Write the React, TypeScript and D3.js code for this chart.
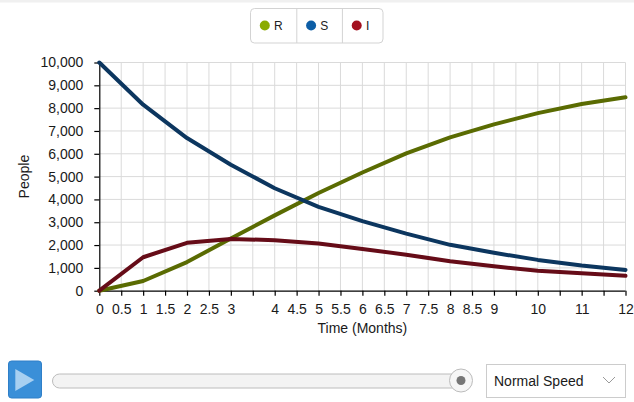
import React, { useEffect, useRef } from "react";
import * as d3 from "d3";

const months = [0, 1, 2, 3, 4, 5, 6, 7, 8, 9, 10, 11, 12];
const susceptible = [10000, 8150, 6690, 5520, 4490, 3670, 3050, 2500, 2010, 1660, 1350, 1100, 910];
const infected = [0, 1465, 2100, 2270, 2210, 2070, 1830, 1580, 1290, 1070, 875, 760, 650];
const recovered = [0, 425, 1255, 2290, 3300, 4280, 5180, 6020, 6720, 7290, 7780, 8180, 8480];

const xTickValues = [0, 0.5, 1, 1.5, 2, 2.5, 3, 3.5, 4, 4.5, 5, 5.5, 6, 6.5, 7, 7.5, 8, 8.5, 9, 9.5, 10, 10.5, 11, 11.5, 12];
const xHiddenLabels = [3.5, 9.5, 10.5, 11.5];
const yTickValues = [0, 1000, 2000, 3000, 4000, 5000, 6000, 7000, 8000, 9000, 10000];

const legendItems = ["R", "S", "I"];
const lineColors: Record<string, string> = { R: "#5a6b02", S: "#0c365f", I: "#660c18" };
const dotColors: Record<string, string> = { R: "#8aab00", S: "#0d5ea6", I: "#a3101f" };

const W = 634;
const H = 402;
const margin = { left: 99.3, right: 8.5, top: 62.5, bottom: 111.3 };
const FONT = "'Liberation Sans', Arial, sans-serif";

export default function App() {
  const ref = useRef<SVGSVGElement | null>(null);

  useEffect(() => {
    document.body.style.margin = "0";
    const svg = d3.select(ref.current);
    svg.selectAll("*").remove();

    const x = d3.scaleLinear().domain([0, 12]).range([margin.left, W - margin.right]);
    const y = d3.scaleLinear().domain([0, 10000]).range([H - margin.bottom, margin.top]);

    // top strip
    svg.append("rect").attr("x", 0).attr("y", 0).attr("width", W).attr("height", 2.5).attr("fill", "#f0f0f0");

    // grid
    const grid = svg.append("g");
    grid.selectAll("line.v").data(xTickValues.filter((v) => v > 0)).enter().append("line")
      .attr("x1", (d) => x(d)).attr("x2", (d) => x(d))
      .attr("y1", y(10000)).attr("y2", y(0))
      .attr("stroke", "#dadada").attr("stroke-width", 1);
    grid.selectAll("line.h").data(yTickValues.filter((v) => v > 0)).enter().append("line")
      .attr("x1", x(0)).attr("x2", x(12))
      .attr("y1", (d) => y(d)).attr("y2", (d) => y(d))
      .attr("stroke", "#dadada").attr("stroke-width", 1);

    // axes
    const xAxis = d3.axisBottom(x).tickValues(xTickValues).tickSize(5).tickPadding(8)
      .tickFormat((d) => (xHiddenLabels.includes(+d) ? "" : String(d)));
    const gx = svg.append("g").attr("transform", `translate(0,${y(0)})`).call(xAxis);
    const yAxis = d3.axisLeft(y).tickValues(yTickValues).tickSize(5).tickPadding(11)
      .tickFormat((d) => d3.format(",")(+d));
    const gy = svg.append("g").attr("transform", `translate(${x(0)},0)`).call(yAxis);
    [gx, gy].forEach((g) => {
      g.select(".domain").attr("stroke", "#000").attr("stroke-width", 1.2);
      g.selectAll(".tick line").attr("stroke", "#000").attr("stroke-width", 1.2);
      g.selectAll("text").attr("font-family", FONT).attr("font-size", 14).attr("fill", "#1a1a1a");
    });
    gx.select(".domain").attr("d", `M${x(0)},0.5H${x(12)}`);
    gy.select(".domain").attr("d", `M0.5,${y(10000)}V${y(0)}`);

    // axis titles
    svg.append("text").attr("x", (x(0) + x(12)) / 2).attr("y", 333)
      .attr("text-anchor", "middle").attr("font-family", FONT).attr("font-size", 14).attr("fill", "#1a1a1a")
      .text("Time (Months)");
    svg.append("text").attr("transform", `translate(29,${(y(0) + y(10000)) / 2}) rotate(-90)`)
      .attr("text-anchor", "middle").attr("font-family", FONT).attr("font-size", 14).attr("fill", "#1a1a1a")
      .text("People");

    // lines
    const series: [string, number[]][] = [["R", recovered], ["S", susceptible], ["I", infected]];
    const line = d3.line<number>().x((_, i) => x(months[i])).y((d) => y(d)).curve(d3.curveLinear);
    series.forEach(([key, vals]) => {
      svg.append("path").attr("d", line(vals) as string).attr("fill", "none")
        .attr("stroke", lineColors[key]).attr("stroke-width", 4)
        .attr("stroke-linejoin", "round").attr("stroke-linecap", "round");
    });

    // legend
    const lg = svg.append("g");
    lg.append("rect").attr("x", 250.5).attr("y", 8.5).attr("width", 132.5).attr("height", 34.5)
      .attr("rx", 4).attr("fill", "#fff").attr("stroke", "#d3d3d3");
    const itemW = [46.3, 45.6, 40.6];
    let lx = 250.5;
    legendItems.forEach((k, i) => {
      if (i > 0) {
        lg.append("line").attr("x1", lx).attr("x2", lx).attr("y1", 8.5).attr("y2", 43)
          .attr("stroke", "#d3d3d3");
      }
      lg.append("circle").attr("cx", lx + 14.3).attr("cy", 25.5).attr("r", 5).attr("fill", dotColors[k]);
      lg.append("text").attr("x", lx + 23.5).attr("y", 30).attr("font-family", FONT).attr("font-size", 12)
        .attr("fill", "#222").text(k);
      lx += itemW[i];
    });

    // controls
    const c = svg.append("g");
    c.append("rect").attr("x", 8.5).attr("y", 361).attr("width", 33).attr("height", 37).attr("rx", 3)
      .attr("fill", "#3a8fd8").attr("stroke", "#2f7fc8");
    c.append("path").attr("d", "M15.3,369 L34.3,380 L15.3,391 Z").attr("fill", "#a8d0f1");
    c.append("rect").attr("x", 52.5).attr("y", 374).attr("width", 418).attr("height", 14).attr("rx", 7)
      .attr("fill", "#f3f3f3").attr("stroke", "#bcbcbc");
    c.append("circle").attr("cx", 461).attr("cy", 380.5).attr("r", 11.5).attr("fill", "#f6f6f6").attr("stroke", "#bcbcbc");
    c.append("circle").attr("cx", 461).attr("cy", 380.5).attr("r", 4.5).attr("fill", "#767676");
    c.append("rect").attr("x", 486.5).attr("y", 364.5).attr("width", 139).attr("height", 33)
      .attr("fill", "#fff").attr("stroke", "#cccccc");
    c.append("text").attr("x", 494).attr("y", 386).attr("font-family", FONT).attr("font-size", 14)
      .attr("fill", "#1a1a1a").text("Normal Speed");
    c.append("path").attr("d", "M603,377 L609,383 L615,377").attr("fill", "none").attr("stroke", "#9a9a9a");
  }, []);

  return (
    <svg ref={ref} width={W} height={H} style={{ position: "absolute", left: 0, top: 0, display: "block" }} />
  );
}
